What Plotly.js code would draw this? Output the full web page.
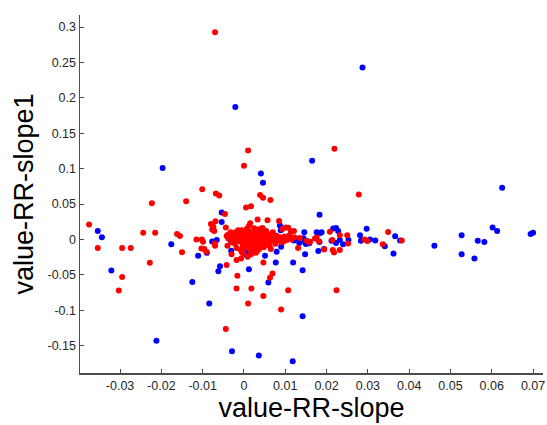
<!DOCTYPE html>
<html>
<head>
<meta charset="utf-8">
<script src="https://cdn.plot.ly/plotly-3.0.1.min.js"></script>
<style>html,body{margin:0;padding:0;background:#fff;}#chart{width:547px;height:425px;}</style>
</head>
<body>
<div id="chart"></div>
<script>
// Blue series
const blueX = [-0.0021,-0.0197,0.0287,0.0165,0.0625,0.0183,0.0041,0.0046,-0.0054,-0.0054,
  -0.0354,-0.0344,-0.0321,-0.0176,-0.0212,-0.0111,-0.0125,-0.0084,-0.0029,0.0036,
  -0.0062,0.0012,-0.0077,-0.0066,-0.0033,-0.0031,0.0005,0.0019,-0.0090,0.0087,
  0.0146,0.0176,0.0188,0.0216,0.0128,0.0144,0.0148,0.0183,0.0090,0.0051,
  0.0148,0.0180,0.0194,0.0077,0.0119,0.0142,0.0059,0.0142,0.0118,0.0223,
  0.0228,0.0297,0.0281,0.0366,0.0378,0.0212,0.0223,0.0232,0.0253,0.0240,
  0.0283,0.0305,0.0318,0.0341,0.0362,0.0461,0.0527,0.0527,0.0566,0.0582,
  0.0558,0.0602,0.0613,0.0694,0.0700,0.0158,0.0134,0.0091,0.0089,0.0121,
  -0.0058,0.0079,0.0150,0.0006,0.0184];
const blueY = [0.187,0.101,0.243,0.111,0.073,0.035,0.093,0.080,0.038,0.0245,
  0.012,0.003,-0.044,-0.007,-0.143,-0.023,-0.060,-0.0905,-0.158,-0.164,
  -0.045,-0.042,-0.003,-0.001,-0.001,-0.016,-0.0215,-0.015,-0.019,0.0195,
  0.010,0.010,0.010,0.0155,0.000,0.0015,-0.004,-0.0035,-0.0105,-0.023,
  -0.021,-0.0165,-0.0135,-0.0325,-0.0325,-0.0435,-0.061,-0.1085,-0.172,0.016,
  0.012,0.015,0.006,0.0045,-0.0015,-0.002,-0.005,-0.001,-0.001,-0.007,
  -0.002,0.000,-0.0015,-0.0095,-0.020,-0.009,0.006,-0.021,-0.002,-0.0035,
  -0.027,0.017,0.012,0.0075,0.0095,-0.0055,-0.005,0.0015,0.013,-0.0015,
  -0.038,-0.0175,-0.0065,-0.0175,0.009];

// Red series
const redX = [-0.0070,0.0010,0.0000,0.0219,0.0278,0.0064,-0.0223,-0.0140,-0.0101,-0.0068,
  -0.0060,0.0039,0.0046,0.0005,0.0017,-0.0046,-0.0375,-0.0354,-0.0295,-0.0274,
  -0.0295,-0.0303,-0.0244,-0.0215,-0.0228,-0.0162,-0.0155,-0.0150,-0.0044,-0.0018,
  0.0010,0.0018,-0.0042,-0.0016,-0.0018,-0.0030,0.0047,0.0063,0.0069,0.0090,
  0.0107,0.0224,0.0047,0.0033,0.0057,0.0085,0.0101,0.0015,-0.0080,-0.0069,
  -0.0077,-0.0072,-0.0044,-0.0038,-0.0032,-0.0115,-0.0102,-0.0099,-0.0071,-0.0070,
  -0.0040,-0.0038,-0.0096,-0.0091,-0.0103,-0.0007,0.0009,-0.0002,0.0017,0.0031,
  0.0093,0.0114,0.0121,0.0115,0.0095,0.0156,0.0172,0.0131,0.0065,0.0208,
  0.0232,0.0250,0.0252,0.0292,0.0299,0.0349,0.0382,0.0336,0.0215,0.0218,
  0.0232,0.0194,0.0214,0.0176,0.0182,0.0160,0.0152,0.0107,-0.0014,0.0025,
  0.0036,0.0041,-0.0074,-0.0026,-0.0042,
  -0.0025,-0.0022,-0.0020,-0.0018,-0.0015,-0.0012,-0.0010,-0.0008,-0.0006,-0.0005,
  -0.0003,0.0000,0.0001,0.0002,0.0004,0.0005,0.0007,0.0008,0.0010,0.0011,
  0.0012,0.0014,0.0015,0.0016,0.0018,0.0019,0.0020,0.0022,0.0023,0.0025,
  0.0026,0.0027,0.0029,0.0030,0.0031,0.0033,0.0034,0.0036,0.0037,0.0038,
  0.0040,0.0041,0.0043,0.0045,0.0046,0.0048,0.0050,0.0052,0.0054,0.0055,
  0.0058,0.0060,0.0062,0.0065,0.0068,0.0070,0.0073,0.0076,0.0079,0.0082,
  0.0086,0.0090,0.0098,0.0104,0.0110,0.0122,0.0135,-0.0030,-0.0035,-0.0005,
  0.0028,0.0045,0.0012];
const redY = [0.2925,0.1255,0.104,0.128,0.0636,0.0556,0.051,0.054,0.0707,0.065,
  0.062,0.0627,0.059,0.045,0.047,0.036,0.021,-0.012,-0.012,-0.012,
  -0.053,-0.072,0.0093,0.0093,-0.033,0.0075,0.0047,-0.018,-0.1265,-0.0693,
  -0.0905,-0.0693,-0.036,-0.0515,-0.029,-0.021,-0.080,-0.054,-0.048,-0.099,
  -0.0717,-0.0717,-0.0325,0.028,0.027,0.026,0.017,0.023,0.0216,0.0255,
  0.014,0.012,0.0167,0.007,0.010,0.000,0.000,-0.0034,-0.0057,-0.0088,
  -0.0088,0.0014,-0.0137,-0.0175,-0.0127,-0.027,-0.0246,-0.020,-0.021,-0.0175,
  0.0146,0.0117,0.012,0.000,-0.0034,-0.0034,0.0014,-0.012,-0.0137,0.0107,
  0.006,0.006,-0.0057,0.000,-0.0024,0.0103,-0.0014,-0.007,-0.0151,-0.0184,
  -0.0151,-0.0141,-0.001,0.0028,-0.0028,-0.0034,-0.002,0.0164,0.013,0.0156,
  0.014,0.015,0.018,0.0004,0.0047,
  0.004,-0.006,0.010,-0.012,0.001,0.007,-0.003,-0.015,0.013,0.003,
  -0.008,0.000,0.009,-0.005,-0.012,0.005,0.015,-0.001,0.002,-0.009,
  0.011,-0.004,0.006,-0.016,0.000,0.008,-0.007,0.003,-0.012,0.013,
  -0.002,0.005,-0.010,0.001,0.009,-0.005,0.004,-0.014,0.011,-0.001,
  0.006,-0.008,0.002,-0.003,0.009,-0.011,0.004,-0.006,0.012,0.000,
  -0.004,0.007,-0.009,0.003,-0.002,0.010,0.001,-0.006,0.005,-0.001,
  0.003,-0.004,0.004,-0.001,0.006,0.003,0.002,-0.004,0.002,-0.018,
  -0.019,0.016,0.019];

const xTickVals = [-0.03,-0.02,-0.01,0,0.01,0.02,0.03,0.04,0.05,0.06,0.07];
const xTickText = ["-0.03","-0.02","-0.01","0","0.01","0.02","0.03","0.04","0.05","0.06","0.07"];
const yTickVals = [-0.15,-0.1,-0.05,0,0.05,0.1,0.15,0.2,0.25,0.3];
const yTickText = ["-0.15","-0.1","-0.05","0","0.05","0.1","0.15","0.2","0.25","0.3"];

const traces = [
  {x: blueX, y: blueY, type: 'scatter', mode: 'markers', marker: {color: '#0000ff', size: 6}, hoverinfo: 'none'},
  {x: redX, y: redY, type: 'scatter', mode: 'markers', marker: {color: '#ff0000', size: 6}, hoverinfo: 'none'}
];

const axisCommon = {
  showgrid: false, zeroline: false, showline: true, linecolor: '#4d4d4d', linewidth: 1.5,
  ticks: 'inside', ticklen: 4, tickwidth: 1, tickcolor: '#4d4d4d',
  tickfont: {family: 'Liberation Sans, Arial, sans-serif', size: 12.5, color: '#262626'},
  tickmode: 'array', automargin: false
};

const layout = {
  width: 547, height: 425,
  margin: {l: 80, r: 4, t: 15, b: 52},
  paper_bgcolor: '#ffffff', plot_bgcolor: '#ffffff',
  showlegend: false,
  xaxis: Object.assign({}, axisCommon, {
    range: [-0.0397, 0.0724], tickvals: xTickVals, ticktext: xTickText,
    title: {text: 'value-RR-slope', font: {family: 'Liberation Sans, Arial, sans-serif', size: 27, color: '#000'}, standoff: 6}
  }),
  yaxis: Object.assign({}, axisCommon, {
    range: [-0.1887, 0.317], tickvals: yTickVals, ticktext: yTickText,
    title: {text: 'value-RR-slope1', font: {family: 'Liberation Sans, Arial, sans-serif', size: 27, color: '#000'}, standoff: 6}
  })
};

Plotly.newPlot('chart', traces, layout, {staticPlot: true, displayModeBar: false});
</script>
</body>
</html>
